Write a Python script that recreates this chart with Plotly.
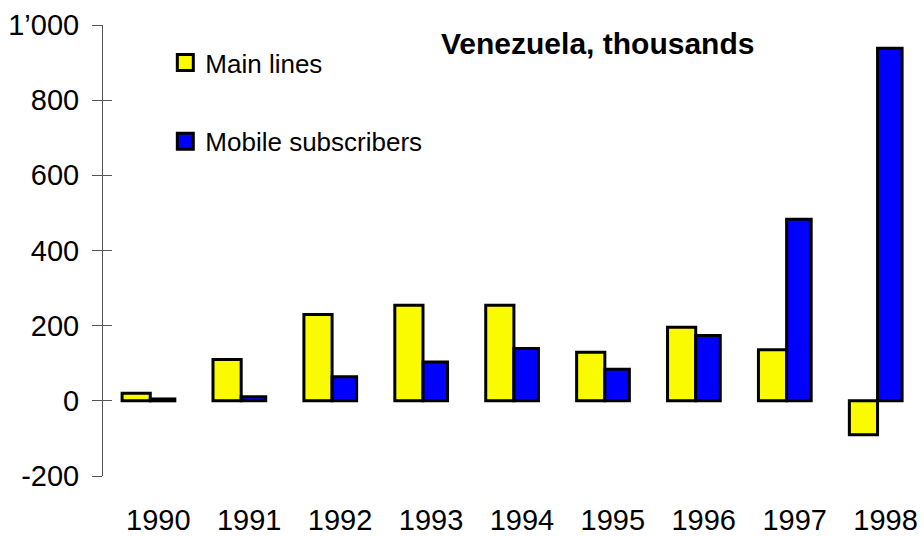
import plotly.graph_objects as go

years = ["1990", "1991", "1992", "1993", "1994", "1995", "1996", "1997", "1998"]
main_lines = [20, 110, 230, 254, 254, 129, 196, 136, -90]
mobile_subscribers = [5, 11, 64, 103, 139, 84, 174, 483, 938]

y_tick_values = [-200, 0, 200, 400, 600, 800, 1000]
y_tick_labels = ["-200", "0", "200", "400", "600", "800", "1\u2019000"]

YELLOW = "#FAFA00"
BLUE = "#0000FF"
FONT = "Liberation Sans, Arial, sans-serif"

fig = go.Figure()

fig.add_trace(go.Bar(
    x=years, y=main_lines, name="Main lines", showlegend=False,
    width=0.31, offset=-0.31,
    marker=dict(color=YELLOW, line=dict(color="black", width=3)),
))
fig.add_trace(go.Bar(
    x=years, y=mobile_subscribers, name="Mobile subscribers", showlegend=False,
    width=0.27, offset=0.0,
    marker=dict(color=BLUE, line=dict(color="black", width=3)),
))

# legend entries (larger square symbols)
fig.add_trace(go.Scatter(
    x=[None], y=[None], mode="markers", name="Main lines", yaxis="y2",
    legendgroup="a",
    marker=dict(symbol="square", size=16, color=YELLOW, line=dict(color="black", width=3)),
))
fig.add_trace(go.Scatter(
    x=[None], y=[None], mode="markers", name="Mobile subscribers", yaxis="y2",
    legendgroup="b",
    marker=dict(symbol="square", size=16, color=BLUE, line=dict(color="black", width=3)),
))

fig.update_layout(
    width=924, height=536,
    margin=dict(l=103, r=1, t=25, b=60),
    paper_bgcolor="white", plot_bgcolor="white",
    font=dict(family=FONT, size=29, color="black"),
    barmode="overlay",
    xaxis=dict(
        type="category", range=[-0.52, 8.5], automargin=False,
        showgrid=False, zeroline=False, showline=False, ticks="",
        tickfont=dict(size=29), ticklabelstandoff=24, ticklabelshift=8,
    ),
    yaxis=dict(
        range=[-200, 1000], tickvals=y_tick_values, ticktext=y_tick_labels,
        automargin=False,
        showgrid=False, zeroline=False, showline=True, linecolor="#555", linewidth=1,
        ticks="outside", ticklen=10, tickcolor="#555", tickwidth=1,
        tickfont=dict(size=29), ticklabelstandoff=7,
    ),
    yaxis2=dict(
        range=[-200, 1000], overlaying="y", side="left", tickvals=y_tick_values,
        automargin=False,
        showgrid=False, zeroline=False, showline=False, showticklabels=False,
        ticks="inside", ticklen=9, tickcolor="#555", tickwidth=1,
    ),
    legend=dict(
        x=0.076, y=0.969, xanchor="left", yanchor="top",
        font=dict(size=26), tracegroupgap=42, itemsizing="trace",
        bgcolor="rgba(0,0,0,0)",
    ),
    annotations=[dict(
        text="<b>Venezuela, thousands</b>", x=0.603, y=0.96, xref="paper", yref="paper",
        xanchor="center", yanchor="middle", showarrow=False, font=dict(size=30),
    )],
)

fig.write_html("out.html")
